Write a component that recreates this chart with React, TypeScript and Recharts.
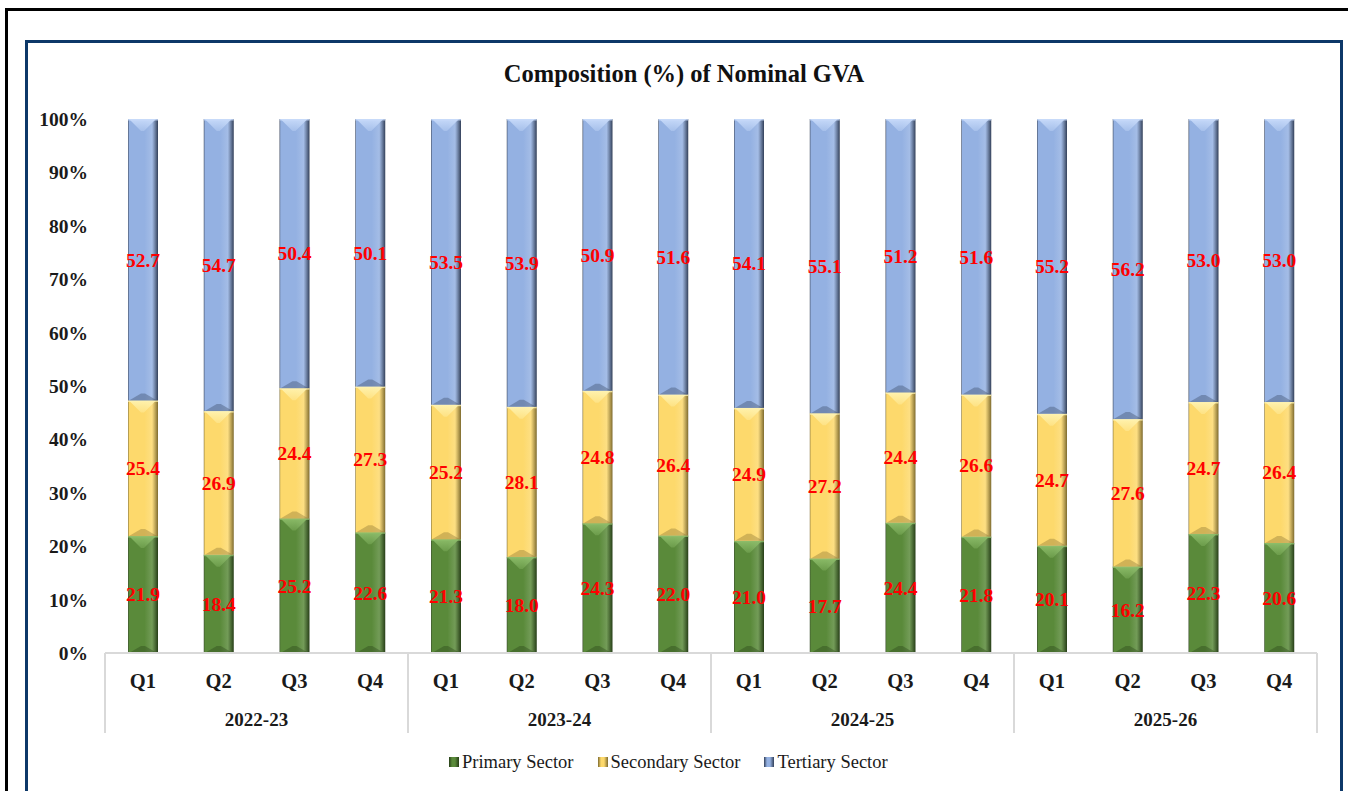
import React from "react";
import { BarChart, Bar, XAxis, YAxis, LabelList } from "recharts";

const QUARTERS = ["Q1", "Q2", "Q3", "Q4", "Q1", "Q2", "Q3", "Q4", "Q1", "Q2", "Q3", "Q4", "Q1", "Q2", "Q3", "Q4"];
const YEARS = ["2022-23", "2023-24", "2024-25", "2025-26"];
const PRIMARY = [21.9, 18.4, 25.2, 22.6, 21.3, 18.0, 24.3, 22.0, 21.0, 17.7, 24.4, 21.8, 20.1, 16.2, 22.3, 20.6];
const SECONDARY = [25.4, 26.9, 24.4, 27.3, 25.2, 28.1, 24.8, 26.4, 24.9, 27.2, 24.4, 26.6, 24.7, 27.6, 24.7, 26.4];
const TERTIARY = [52.7, 54.7, 50.4, 50.1, 53.5, 53.9, 50.9, 51.6, 54.1, 55.1, 51.2, 51.6, 55.2, 56.2, 53.0, 53.0];
const Y_TICKS = [0, 10, 20, 30, 40, 50, 60, 70, 80, 90, 100];

const SERIES = [
  { key: "primary", name: "Primary Sector", base: "#5a8a3a", light: "#8dbd6a", dark: "#263d17" },
  { key: "secondary", name: "Secondary Sector", base: "#fdd96c", light: "#fff3b0", dark: "#7d6a2e" },
  { key: "tertiary", name: "Tertiary Sector", base: "#94b1e2", light: "#c8dbfa", dark: "#323f58" },
];

const FONT = "'Liberation Serif', 'Times New Roman', serif";

const data = QUARTERS.map((q, i) => ({
  q,
  year: YEARS[Math.floor(i / 4)],
  primary: PRIMARY[i],
  secondary: SECONDARY[i],
  tertiary: TERTIARY[i],
}));

// bevelled bar segment, roughly like Excel's "angle" bevel
function BevelBar(props: any) {
  const { x, y, width: w, height: h, s } = props;
  if (!h || h <= 0) return null;
  const t = Math.min(12, h / 2);
  const b = Math.min(7, h / 3);
  return (
    <g>
      <rect x={x} y={y} width={w} height={h} fill={`url(#grad-${s.key})`} />
      <polygon
        points={`${x + 1},${y} ${x + w - 2},${y} ${x + w / 2 + 1},${y + t} ${x + w / 2 - 2},${y + t}`}
        fill={`url(#top-${s.key})`}
      />
      <polygon
        points={`${x + 1},${y + h} ${x + w - 1},${y + h} ${x + w / 2 + 2},${y + h - b} ${x + w / 2 - 2},${y + h - b}`}
        fill={s.dark}
        opacity={0.35}
      />
      <line x1={x} x2={x + w} y1={y + 0.75} y2={y + 0.75} stroke={s.light} strokeWidth={1.5} opacity={0.8} />
    </g>
  );
}

function QuarterTick(props: any) {
  const { x, y, payload, index } = props;
  const half = payload?.offset || 37.9;
  const i = payload?.index ?? index;
  return (
    <g>
      <text x={x} y={y + 35} textAnchor="middle" fontFamily={FONT} fontWeight="bold" fontSize={20.5} fill="#1a1a1a">
        {payload.value}
      </text>
      {i % 4 === 0 && (
        <line x1={x - half} x2={x - half} y1={y} y2={y + 80} stroke="#d9d9d9" strokeWidth={2} />
      )}
      {i === QUARTERS.length - 1 && (
        <line x1={x + half} x2={x + half} y1={y} y2={y + 80} stroke="#d9d9d9" strokeWidth={2} />
      )}
      {i % 4 === 1 && (
        <text x={x + half} y={y + 73} textAnchor="middle" fontFamily={FONT} fontWeight="bold" fontSize={19} fill="#1a1a1a">
          {data[i].year}
        </text>
      )}
    </g>
  );
}

export default function App() {
  return (
    <div style={{ position: "fixed", left: 0, top: 0, width: 1348, height: 791, background: "#fff", overflow: "hidden" }}>
      <div style={{ position: "absolute", left: 5, top: 8, width: 1400, height: 900, border: "3px solid #000", boxSizing: "border-box" }} />
      <div style={{ position: "absolute", left: 25, top: 40, width: 1318, height: 900, border: "3px solid #0d3868", boxSizing: "border-box" }} />
      <svg style={{ position: "absolute", left: 0, top: 0 }} width={1348} height={120}>
        <text x={684} y={82} textAnchor="middle" fontFamily={FONT} fontWeight="bold" fontSize={24.5} fill="#111">
          Composition (%) of Nominal GVA
        </text>
      </svg>
      <div style={{ position: "absolute", left: 0, top: 0 }}>
        <BarChart width={1348} height={791} data={data} margin={{ top: 119, right: 31, bottom: 58, left: 45 }}>
          <defs>
            {SERIES.map((s) => (
              <linearGradient key={s.key} id={`grad-${s.key}`} x1="0" y1="0" x2="1" y2="0">
                <stop offset="0%" stopColor={s.dark} stopOpacity={0.9} />
                <stop offset="4%" stopColor={s.base} />
                <stop offset="55%" stopColor={s.base} />
                <stop offset="80%" stopColor={s.base} stopOpacity={0.85} />
                <stop offset="100%" stopColor={s.dark} />
              </linearGradient>
            ))}
            {SERIES.map((s) => (
              <linearGradient key={s.key} id={`top-${s.key}`} x1="0" y1="0" x2="0" y2="1">
                <stop offset="0%" stopColor={s.light} stopOpacity={0.95} />
                <stop offset="100%" stopColor={s.light} stopOpacity={0.35} />
              </linearGradient>
            ))}
          </defs>
          <XAxis
            dataKey="q"
            height={80}
            interval={0}
            tickLine={false}
            tickSize={0}
            tickMargin={0}
            axisLine={{ stroke: "#d9d9d9", strokeWidth: 2 }}
            tick={<QuarterTick />}
          />
          <YAxis
            width={60}
            domain={[0, 100]}
            ticks={Y_TICKS}
            interval={0}
            axisLine={false}
            tickLine={false}
            tickSize={0}
            tickMargin={17}
            tickFormatter={(v) => `${v}%`}
            tick={{ fontFamily: FONT, fontWeight: "bold", fontSize: 19.5, fill: "#1a1a1a" }}
          />
          {SERIES.map((s) => (
            <Bar
              key={s.key}
              dataKey={s.key}
              name={s.name}
              stackId="gva"
              barSize={30}
              fill={s.base}
              isAnimationActive={false}
              shape={(p: any) => <BevelBar {...p} s={s} />}
            >
              <LabelList
                dataKey={s.key}
                position="center"
                formatter={(v: any) => Number(v).toFixed(1)}
                fill="#ff0000"
                fontFamily={FONT}
                fontWeight="bold"
                fontSize={19.5}
              />
            </Bar>
          ))}
        </BarChart>
      </div>
      {/* legend */}
      <div
        style={{
          position: "absolute",
          left: 449,
          top: 752,
          height: 20,
          display: "flex",
          alignItems: "center",
          gap: 24,
          fontFamily: FONT,
          fontSize: 18.5,
          color: "#1a1a1a",
        }}
      >
        {SERIES.map((s) => (
          <div key={s.key} style={{ display: "flex", alignItems: "center", gap: 3 }}>
            <div
              style={{
                width: 10,
                height: 10,
                background: `linear-gradient(90deg, ${s.dark} 0%, ${s.base} 30%, ${s.base} 60%, ${s.dark} 100%)`,
              }}
            />
            <span>{s.name}</span>
          </div>
        ))}
      </div>
    </div>
  );
}
